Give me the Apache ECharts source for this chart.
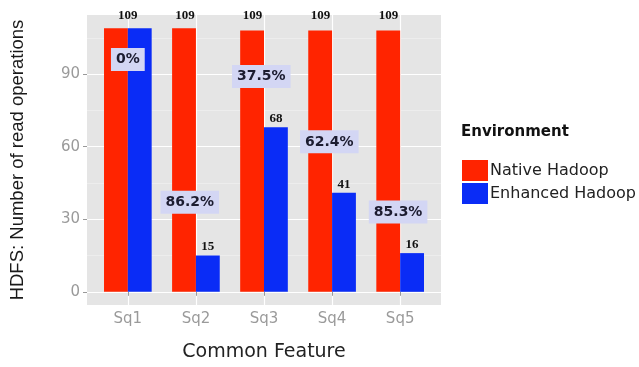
<!DOCTYPE html>
<html>
<head>
<meta charset="utf-8">
<style>html,body{margin:0;padding:0;background:#fff;}#c{width:639px;height:367px;}</style>
<script src="https://cdn.jsdelivr.net/npm/echarts@6/dist/echarts.min.js"></script>
</head>
<body>
<div id="c"></div>
<script>
var categories = ['Sq1', 'Sq2', 'Sq3', 'Sq4', 'Sq5'];
var nativeValues = [109, 109, 108, 108, 108];
var enhancedValues = [109, 15, 68, 41, 16];
var nativeLabels = ['109', '109', '109', '109', '109'];
var enhancedLabels = ['', '15', '68', '41', '16'];
var reductionLabels = ['0%', '86.2%', '37.5%', '62.4%', '85.3%'];
var reductionLabelX = [1.0, 1.91, 2.96, 3.96, 4.97];
var reductionLabelY = [96, 37, 89, 62, 33];
var nativeLabelX = [1.0, 1.84, 2.83, 3.83, 4.83];
var nativeLabelY = [114, 114, 114, 114, 114];
var yMajorTicks = [0, 30, 60, 90];
var yMinorTicks = [15, 45, 75, 105];
var xTicks = [1, 2, 3, 4, 5];

var sans = 'DejaVu Sans';
var chart = echarts.init(document.getElementById('c'));
var pos = function (i) { return xTicks[i]; };

chart.setOption({
  animation: false,
  backgroundColor: '#ffffff',
  title: {
    text: 'Environment', left: 456, top: 120,
    textStyle: { fontFamily: sans, fontWeight: 'bold', fontSize: 15, color: '#111' }
  },
  legend: {
    left: 457, top: 155, orient: 'vertical', itemGap: 2,
    itemWidth: 26, itemHeight: 21, icon: 'rect',
    textStyle: { fontFamily: sans, fontSize: 16, color: '#222', padding: [0, 0, 0, -3] },
    data: ['Native Hadoop', 'Enhanced Hadoop']
  },
  grid: {
    left: 87, right: 198, top: 15, bottom: 60,
    show: true, backgroundColor: '#e5e5e5', borderWidth: 0
  },
  xAxis: {
    type: 'value', min: 0.4, max: 5.6,
    name: 'Common Feature', nameLocation: 'middle', nameGap: 38,
    nameTextStyle: { fontFamily: sans, fontSize: 19, color: '#222' },
    axisLine: { show: false },
    axisTick: { show: true, customValues: xTicks, length: 4, lineStyle: { color: '#999' } },
    axisLabel: {
      customValues: xTicks, margin: 7,
      fontFamily: sans, fontSize: 15, color: '#9a9a9a',
      formatter: function (v) { return categories[Math.round(v) - 1] || ''; }
    },
    splitLine: { show: true, lineStyle: { color: '#ffffff', width: 1.2 } }
  },
  yAxis: [{
    type: 'value', min: -5.45, max: 114.45,
    name: 'HDFS: Number of read operations', nameLocation: 'middle', nameGap: 60,
    nameTextStyle: { fontFamily: 'Liberation Sans', fontSize: 18.5, color: '#1a1a1a' },
    axisLine: { show: false },
    axisTick: { show: true, customValues: yMajorTicks, length: 4, lineStyle: { color: '#999' } },
    axisLabel: { customValues: yMajorTicks, margin: 7, fontFamily: sans, fontSize: 15, color: '#9a9a9a' },
    splitLine: { show: true, lineStyle: { color: '#ffffff', width: 1.2 } }
  }, {
    type: 'value', min: -5.45, max: 114.45, position: 'left',
    axisLine: { show: false },
    axisTick: { show: false, customValues: yMinorTicks },
    axisLabel: { show: false, customValues: yMinorTicks },
    splitLine: { show: true, lineStyle: { color: '#f2f2f2', width: 0.6 } }
  }],
  series: [{
    name: 'Native Hadoop', type: 'bar', barWidth: '35%', barGap: '0%',
    itemStyle: { color: '#ff2400' },
    data: nativeValues.map(function (v, i) { return [pos(i), v]; }),
    z: 3
  }, {
    name: 'Enhanced Hadoop', type: 'bar', barWidth: '35%', barGap: '0%',
    itemStyle: { color: '#0a2cf6' },
    label: {
      show: true, position: 'top', distance: 2,
      fontFamily: 'Liberation Serif', fontWeight: 'bold', fontSize: 13, color: '#111',
      formatter: function (p) { return enhancedLabels[p.dataIndex]; }
    },
    data: enhancedValues.map(function (v, i) { return [pos(i), v]; }),
    z: 3
  }, {
    type: 'scatter', symbolSize: 0, silent: true, z: 5,
    itemStyle: { opacity: 1 },
    label: {
      show: true, position: 'inside', opacity: 1,
      fontFamily: 'Liberation Serif', fontWeight: 'bold', fontSize: 13, color: '#111',
      formatter: function (p) { return nativeLabels[p.dataIndex]; }
    },
    data: nativeLabelX.map(function (x, i) { return [x, nativeLabelY[i]]; })
  }, {
    type: 'scatter', symbolSize: 0, silent: true, z: 6,
    itemStyle: { opacity: 1 },
    label: {
      show: true, position: 'inside', opacity: 1,
      fontFamily: sans, fontWeight: 'bold', fontSize: 14, color: '#1c1c30',
      backgroundColor: '#d3d6f4', padding: [5, 5, 4, 5],
      formatter: function (p) { return reductionLabels[p.dataIndex]; }
    },
    data: reductionLabelX.map(function (x, i) { return [x, reductionLabelY[i]]; })
  }]
});
</script>
</body>
</html>
